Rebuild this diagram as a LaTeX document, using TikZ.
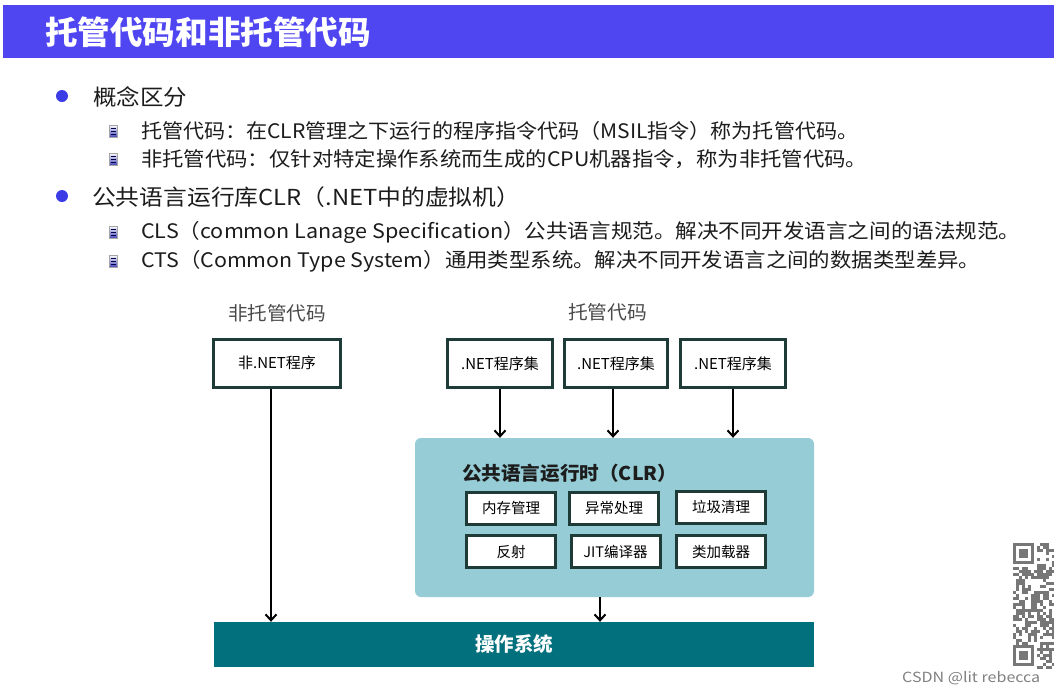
\documentclass[tikz,border=0pt]{standalone}
\usepackage{fontspec}
\setmainfont{Noto Sans CJK SC}
\usepackage{graphicx}
\usetikzlibrary{arrows.meta,positioning}
\definecolor{titlebar}{HTML}{4F46F2}
\definecolor{dotblue}{HTML}{3C3CE6}
\definecolor{boxline}{HTML}{1F3B37}
\definecolor{clrfill}{HTML}{96CCD6}
\definecolor{osfill}{HTML}{03707E}
\definecolor{ink}{HTML}{1C1C1C}
\definecolor{labgray}{HTML}{4A4A4A}
\definecolor{qrgray}{HTML}{777777}
\newcommand{\fitw}[2]{\resizebox{#1}{\height}{#2}}

\begin{document}
\begin{tikzpicture}[x=1pt, y=-1pt,
  txt/.style={inner sep=0pt, anchor=west, text=ink},
  lvlone/.style={txt, font=\fontsize{22}{26}\selectfont},
  lvltwo/.style={txt, font=\fontsize{20}{24}\selectfont},
  dot/.style={circle, fill=dotblue, inner sep=0pt, minimum size=12pt},
  icon/.style={rectangle, inner sep=0pt, minimum width=8pt, minimum height=12pt,
    top color=white, bottom color=blue!45!gray, draw=gray!70,
    path picture={\foreach \k in {-3,0,3}
      \draw[blue!30!black, line width=0.8pt]
        ([xshift=1.5pt, yshift=\k pt]path picture bounding box.west) -- ++(5,0);}},
  sq/.style={draw=boxline, line width=3pt, fill=white, inner sep=0pt},
  prog/.style={sq, minimum height=48pt, font=\fontsize{15}{18}\selectfont},
  part/.style={sq, minimum width=89pt, minimum height=32pt, font=\fontsize{14.5}{17}\selectfont},
  arr/.style={-{Straight Barb[length=6pt, width=11pt]}, line width=2pt}]
  \useasboundingbox (0,0) rectangle (1054,694);
  % title bar
  \fill[titlebar] (3,5) rectangle (1054,58);
  \node[txt, text=white, font=\fontsize{32}{36}\selectfont\bfseries] (title) at (45,32)
    {\fitw{326pt}{托管代码和非托管代码}};
  % bullet list
  \node[dot] (d1) at (62,96) {};
  \node[lvlone] (b1) at (93,97) {\fitw{94pt}{概念区分}};
  \node[icon] (i1) at (113,131) {};
  \node[lvltwo] (s1) at (141,131) {\fitw{717pt}{托管代码：在CLR管理之下运行的程序指令代码（MSIL指令）称为托管代码。}};
  \node[icon] (i2) at (113,159) {};
  \node[lvltwo] (s2) at (141,159) {\fitw{726pt}{非托管代码：仅针对特定操作系统而生成的CPU机器指令，称为非托管代码。}};
  \node[dot] (d2) at (62,196) {};
  \node[lvlone] (b2) at (92,197) {\fitw{428pt}{公共语言运行库CLR（.NET中的虚拟机）}};
  \node[icon] (i3) at (113,232) {};
  \node[lvltwo] (s3) at (141,232) {\fitw{879pt}{CLS（common Lanage Specification）公共语言规范。解决不同开发语言之间的语法规范。}};
  \node[icon] (i4) at (113,261) {};
  \node[lvltwo] (s4) at (141,261) {\fitw{839pt}{CTS（Common Type System）通用类型系统。解决不同开发语言之间的数据类型差异。}};
  % diagram
  \node[text=labgray, font=\fontsize{19}{22}\selectfont] (lblU) at (277,313) {\fitw{98pt}{非托管代码}};
  \node[text=labgray, font=\fontsize{19}{22}\selectfont] (lblM) at (607.5,312) {\fitw{79pt}{托管代码}};
  \node[prog, minimum width=127pt] (nonNet) at (277,363) {非.NET程序};
  \node[prog, minimum width=105pt] (net1) at (500,363.5) {.NET程序集};
  \node[prog, minimum width=103pt] (net2) at (616,363.5) {.NET程序集};
  \node[prog, minimum width=105pt] (net3) at (733,363.5) {.NET程序集};
  \node[fill=clrfill, rounded corners=6pt, inner sep=0pt,
    minimum width=399pt, minimum height=159pt] (clr) at (614.5,517.5) {};
  \node[txt, font=\fontsize{19}{22}\selectfont\bfseries] (clrT) at (462,473)
    {\fitw{215pt}{公共语言运行时（CLR）}};
  \node[part] (mem) at (511,508) {内存管理};
  \node[part] (exc) at (614,508) {异常处理};
  \node[part] (gc) at (721,507) {垃圾清理};
  \node[part] (refl) at (511,551.5) {反射};
  \node[part] (jit) at (615.5,551.5) {JIT编译器};
  \node[part] (load) at (721,551.5) {类加载器};
  \node[fill=osfill, text=white, inner sep=0pt, minimum width=600pt, minimum height=45pt,
    font=\fontsize{19.5}{22}\selectfont\bfseries] (os) at (514,644.5) {操作系统};
  \foreach \b/\dx in {net1/0,net2/-3,net3/0}
    \draw[arr] ([xshift=\dx pt]\b.south) -- ([xshift=\dx pt]\b.south |- clr.north);
  \draw[arr] ([xshift=-6pt]nonNet.south) -- ([xshift=-6pt]nonNet.south |- os.north);
  \draw[arr] ([xshift=-14.5pt]clr.south) -- ([xshift=-14.5pt]clr.south |- os.north);
  % qr corner + watermark
  \pgfmathsetseed{7}
  \foreach \i in {0,...,13}
    \foreach \j in {0,...,41}{
      \pgfmathtruncatemacro\r{(\i<8 && (\j<8 || \j>33)) ? 0 : random(0,1)}
      \ifnum\r=1 \fill[qrgray] (1013+3*\i,543+3*\j) rectangle ++(3,3); \fi
    }
  \draw[qrgray, line width=3pt] (1014.5,544.5) rectangle ++(18,18);
  \fill[qrgray] (1019,549) rectangle ++(9,9);
  \draw[qrgray, line width=3pt] (1014.5,646.5) rectangle ++(18,18);
  \fill[qrgray] (1019,651) rectangle ++(9,9);
  \node[txt, text=gray, font=\fontsize{14}{16}\selectfont] (wm) at (902,678) {\fitw{138pt}{CSDN @lit rebecca}};
\end{tikzpicture}
\end{document}
